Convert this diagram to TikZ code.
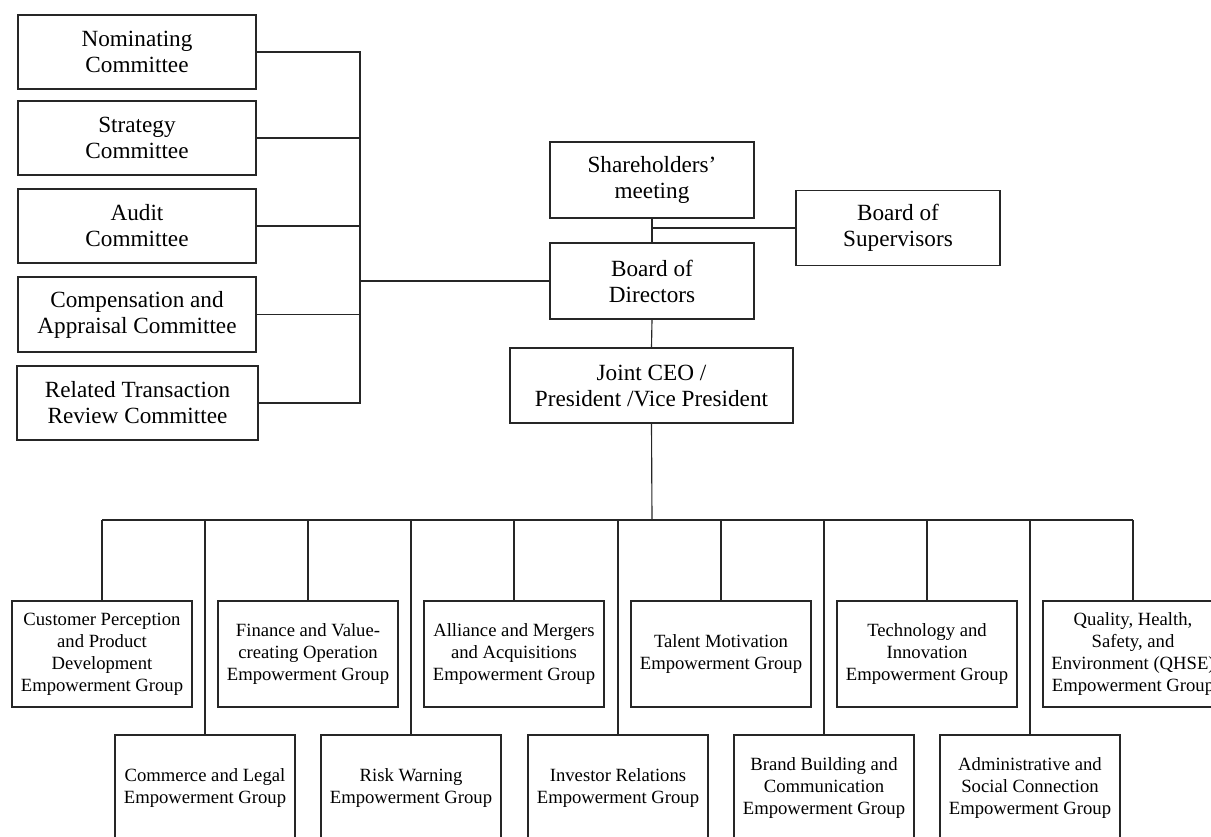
\documentclass[tikz,border=0pt]{standalone}
\usepackage{fontspec}
\setmainfont{Liberation Serif}
\newcommand\pxu{0.75pt}
\begin{document}
\begin{tikzpicture}[x=0.75pt,y=-0.75pt,
  line width=0.85pt,
  big/.style={draw=black!85, rectangle, inner sep=0pt, align=center,
    font=\fontsize{17.4}{19.5}\selectfont, text=black},
  grp/.style={draw=black!85, rectangle, inner sep=0pt, align=center,
    minimum width=180*\pxu, minimum height=106*\pxu,
    font=\fontsize{14}{16.5}\selectfont, text=black},
  conn/.style={draw=black!85}
]
\useasboundingbox (0,0) rectangle (1211,837);

% committees
\node[big, minimum width=238*\pxu, minimum height=74*\pxu] (nom) at (137,52) {Nominating\\Committee};
\node[big, minimum width=238*\pxu, minimum height=74*\pxu] (str) at (137,138) {Strategy\\Committee};
\node[big, minimum width=238*\pxu, minimum height=74*\pxu] (aud) at (137,226) {Audit\\Committee};
\node[big, minimum width=238*\pxu, minimum height=75*\pxu] (com) at (137,314.5) {Compensation and\\Appraisal Committee};
\node[big, minimum width=241*\pxu, minimum height=74*\pxu] (rel) at (137.5,403) {Related Transaction\\Review Committee};

% central
\node[big, minimum width=204*\pxu, minimum height=76*\pxu] (sh) at (652,180) {Shareholders’\\meeting};
\node[big, minimum width=204*\pxu, minimum height=75*\pxu] (bos) at (898,228) {Board of\\Supervisors};
\node[big, minimum width=204*\pxu, minimum height=76*\pxu] (bod) at (652,281) {Board of\\Directors};
\node[big, minimum width=283*\pxu, minimum height=75*\pxu] (ceo) at (651.5,385.5) {Joint CEO /\\President /Vice President};

\coordinate (spine) at (360,281);
\coordinate (bus) at (652,520);

% groups
\node[grp] (g1) at (102,654) {Customer Perception\\and Product\\Development\\Empowerment Group};
\node[grp] (g2) at (205,788) {Commerce and Legal\\Empowerment Group};
\node[grp] (g3) at (308,654) {Finance and Value-\\creating Operation\\Empowerment Group};
\node[grp] (g4) at (411,788) {Risk Warning\\Empowerment Group};
\node[grp] (g5) at (514,654) {Alliance and Mergers\\and Acquisitions\\Empowerment Group};
\node[grp] (g6) at (618,788) {Investor Relations\\Empowerment Group};
\node[grp] (g7) at (721,654) {Talent Motivation\\Empowerment Group};
\node[grp] (g8) at (824,788) {Brand Building and\\Communication\\Empowerment Group};
\node[grp] (g9) at (927,654) {Technology and\\Innovation\\Empowerment Group};
\node[grp] (g10) at (1030,788) {Administrative and\\Social Connection\\Empowerment Group};
\node[grp] (g11) at (1133,654) {Quality, Health,\\Safety, and\\Environment (QHSE)\\Empowerment Group};

% committee connectors
\draw[conn] (nom.east) -- (nom.east -| spine) -- (rel.east -| spine) -- (rel.east);
\draw[conn] (str.east) -- (str.east -| spine);
\draw[conn] (aud.east) -- (aud.east -| spine);
\draw[conn] (com.east) -- (com.east -| spine);
\draw[conn] (spine) -- (bod.west);

% central connectors
\draw[conn] (sh.south) -- (bod.north);
\draw[conn] (bos.west) -- (bos.west -| sh.south);
\draw[conn] (bod.south) -- (ceo.north);
\draw[conn] (ceo.south) -- (bus);
\draw[conn] (g1.north |- bus) -- (g11.north |- bus);
\foreach \g in {g1,g2,g3,g4,g5,g6,g7,g8,g9,g10,g11}
  \draw[conn] (\g.north |- bus) -- (\g.north);
\end{tikzpicture}
\end{document}
